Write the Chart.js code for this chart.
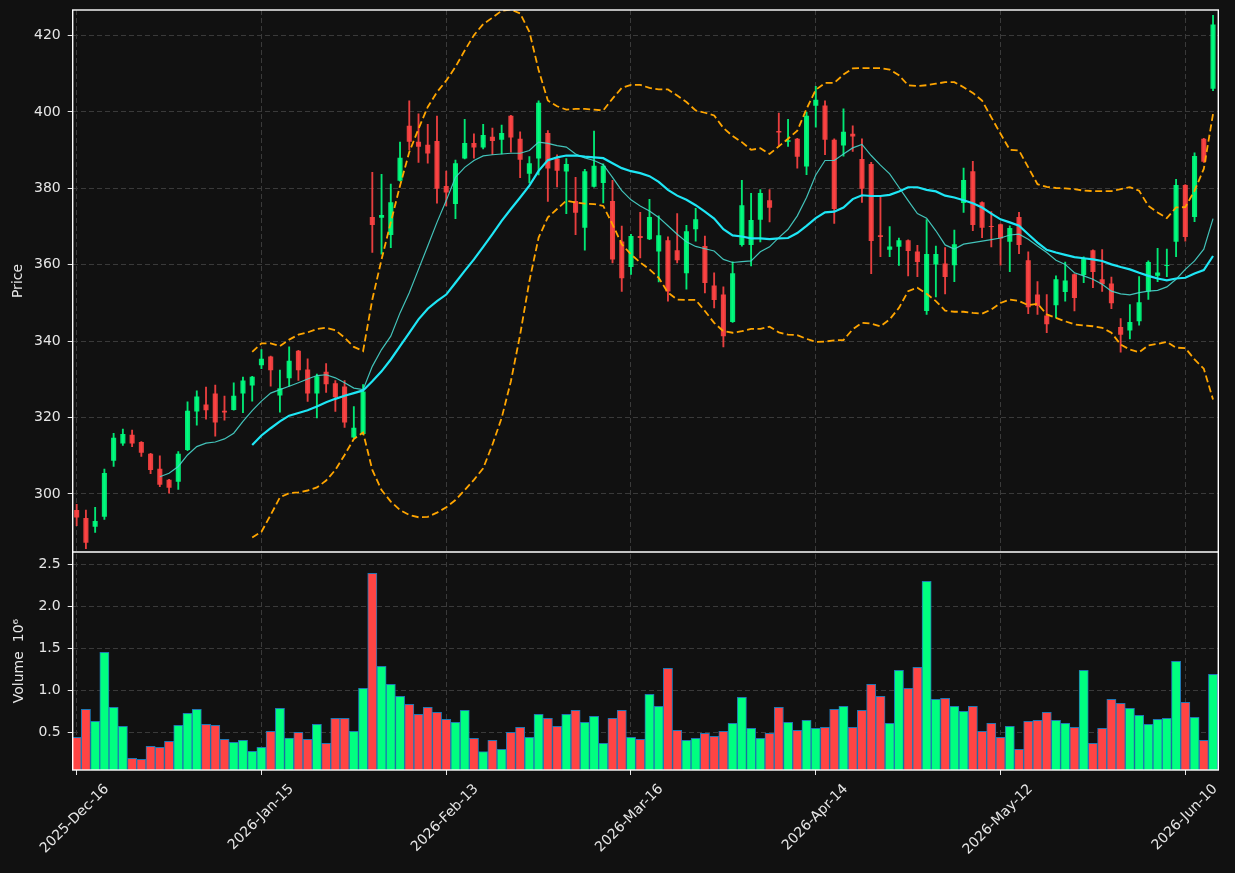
<!DOCTYPE html>
<html>
<head>
<meta charset="utf-8">
<script src="https://cdn.jsdelivr.net/npm/chart.js@4.4.1/dist/chart.umd.min.js"></script>
<style>
  html, body { margin: 0; padding: 0; background: #111111; }
  #wrap { position: relative; width: 1235px; height: 873px; }
</style>
</head>
<body>
<div id="wrap"><canvas id="chart" width="1235" height="873"></canvas></div>
<script>
// x axis: one bar per trading day, labelled every 20 bars
const tickIndex = [0, 20, 40, 60, 80, 100, 120];
const tickLabels = ['2025-Dec-16', '2026-Jan-15', '2026-Feb-13', '2026-Mar-16', '2026-Apr-14', '2026-May-12', '2026-Jun-10'];
const priceTicks = [300, 320, 340, 360, 380, 400, 420];
const volumeTicks = [0.5, 1.0, 1.5, 2.0, 2.5];

// OHLC, bars 0..123
const opens = [
  295.8, 293.7, 291.4, 294.0, 308.7, 313.2, 315.5, 313.6, 310.5, 306.6,
  303.7, 303.2, 311.5, 321.6, 323.4, 326.3, 321.8, 322.0, 326.3, 328.4,
  333.7, 336.0, 325.8, 330.3, 337.5, 332.6, 326.3, 332.0, 329.0, 328.1,
  314.8, 315.7, 372.5, 372.3, 367.8, 382.0, 396.4, 392.2, 391.4, 392.4,
  380.6, 375.9, 387.8, 391.9, 390.7, 393.5, 392.7, 399.0, 393.0, 383.8,
  387.8, 394.5, 387.8, 384.4, 376.7, 369.7, 380.4, 381.4, 376.7, 366.1,
  359.4, 367.5, 366.7, 363.5, 366.4, 363.8, 357.8, 369.3, 364.9, 354.6,
  352.2, 345.0, 365.2, 365.2, 371.8, 376.9, 395.0, 392.2, 393.0, 385.7,
  401.6, 401.7, 392.7, 391.2, 394.3, 387.7, 386.4, 367.7, 363.9, 364.7,
  366.4, 363.5, 347.9, 360.1, 360.3, 359.9, 376.2, 384.5, 376.4, 370.1,
  370.6, 366.0, 372.5, 361.2, 352.2, 346.7, 349.4, 352.9, 357.5, 357.3,
  363.8, 356.2, 355.1, 343.7, 342.8, 345.2, 353.0, 357.1, 359.7, 366.0,
  380.9, 372.5, 393.0, 406.1
];
const highs = [
  297.3, 295.8, 296.5, 306.5, 315.9, 317.0, 316.7, 313.7, 310.6, 310.0,
  303.8, 311.1, 324.1, 327.0, 328.0, 328.5, 325.6, 329.1, 330.6, 330.8,
  337.8, 336.1, 332.4, 338.5, 337.6, 335.4, 331.4, 334.1, 329.7, 329.7,
  322.9, 328.6, 384.2, 383.7, 381.1, 392.1, 402.9, 399.5, 396.8, 398.9,
  384.5, 387.4, 398.1, 394.3, 396.8, 395.8, 396.6, 399.1, 394.8, 388.3,
  402.9, 395.1, 388.8, 387.8, 382.9, 385.0, 395.0, 386.4, 382.1, 370.1,
  368.0, 373.7, 377.1, 372.8, 367.3, 373.4, 370.3, 374.8, 367.5, 357.9,
  354.2, 360.8, 382.1, 378.7, 379.7, 379.7, 399.7, 398.1, 393.1, 400.0,
  406.7, 402.9, 393.0, 400.8, 396.4, 393.0, 386.8, 377.8, 370.0, 367.0,
  366.5, 365.1, 371.8, 364.9, 364.5, 369.1, 385.3, 387.1, 376.5, 373.9,
  370.7, 370.2, 373.7, 363.4, 355.6, 352.2, 357.1, 360.7, 357.6, 362.1,
  363.9, 364.0, 356.8, 345.9, 349.6, 356.9, 361.0, 364.3, 364.1, 382.4,
  381.0, 389.3, 393.1, 425.3
];
const lows = [
  291.7, 285.7, 289.9, 293.3, 307.2, 312.7, 312.4, 309.8, 305.3, 301.9,
  300.2, 301.2, 311.3, 318.0, 319.6, 315.1, 319.3, 321.9, 321.3, 324.3,
  332.8, 328.2, 321.4, 328.2, 329.7, 324.2, 319.9, 326.6, 321.6, 317.4,
  314.7, 315.5, 363.2, 362.8, 364.5, 381.9, 390.1, 386.8, 386.6, 376.1,
  375.4, 372.1, 387.7, 387.9, 390.3, 388.8, 389.0, 389.5, 382.8, 381.4,
  383.5, 376.6, 380.4, 373.4, 367.9, 363.8, 380.3, 376.2, 360.5, 353.0,
  357.5, 361.8, 366.6, 355.5, 350.5, 360.5, 353.6, 366.2, 352.6, 348.7,
  338.5, 344.9, 364.9, 359.7, 366.0, 371.2, 391.0, 391.0, 385.3, 383.6,
  396.0, 388.8, 370.8, 388.4, 389.7, 376.3, 357.7, 362.1, 362.1, 359.8,
  357.1, 356.9, 347.0, 351.6, 352.4, 355.6, 373.7, 368.9, 367.1, 364.7,
  359.9, 358.2, 362.9, 347.2, 347.0, 342.2, 346.1, 350.5, 347.9, 355.3,
  354.0, 353.0, 348.5, 337.1, 340.6, 344.2, 350.9, 355.6, 356.9, 362.1,
  366.2, 371.3, 386.8, 405.6
];
const closes = [
  293.8, 287.2, 292.9, 305.5, 314.7, 315.7, 313.2, 310.8, 306.3, 302.4,
  301.6, 310.5, 321.8, 325.5, 321.9, 318.7, 321.3, 325.7, 329.7, 330.7,
  335.4, 332.4, 327.7, 334.9, 332.4, 326.3, 330.8, 328.7, 325.3, 318.7,
  317.3, 326.8, 370.4, 373.0, 376.4, 388.0, 392.2, 390.9, 389.1, 379.9,
  378.9, 386.6, 391.9, 390.7, 394.0, 392.4, 394.5, 393.3, 387.5, 386.6,
  402.4, 385.2, 384.6, 386.4, 373.6, 384.5, 385.9, 385.9, 361.4, 356.5,
  367.5, 367.0, 372.5, 367.7, 353.0, 361.2, 368.8, 371.9, 355.2, 350.8,
  341.3, 357.8, 375.6, 371.7, 378.8, 374.9, 394.6, 392.6, 388.3, 399.0,
  403.2, 392.7, 374.6, 394.8, 393.6, 379.9, 366.2, 367.3, 364.8, 366.4,
  363.6, 360.7, 362.8, 362.8, 356.8, 365.4, 382.2, 370.4, 369.7, 369.9,
  366.9, 369.6, 365.2, 348.9, 349.2, 344.4, 356.2, 355.9, 351.3, 361.7,
  358.1, 354.9, 349.9, 341.7, 345.0, 350.2, 360.7, 358.0, 359.9, 380.9,
  367.3, 388.5, 387.0, 422.9
];

// volume in millions
const volumes = [
  0.44, 0.774, 0.631, 1.452, 0.798, 0.571, 0.19, 0.178, 0.333, 0.321,
  0.393, 0.583, 0.726, 0.774, 0.595, 0.583, 0.417, 0.381, 0.405, 0.274,
  0.321, 0.512, 0.786, 0.432, 0.50, 0.417, 0.595, 0.369, 0.667, 0.667,
  0.512, 1.024, 2.393, 1.286, 1.071, 0.929, 0.833, 0.714, 0.798, 0.738,
  0.655, 0.619, 0.762, 0.429, 0.269, 0.405, 0.298, 0.50, 0.560, 0.44,
  0.714, 0.667, 0.571, 0.714, 0.762, 0.619, 0.690, 0.369, 0.667, 0.762,
  0.44, 0.417, 0.952, 0.810, 1.262, 0.524, 0.405, 0.429, 0.488, 0.452,
  0.512, 0.607, 0.917, 0.548, 0.429, 0.488, 0.798, 0.619, 0.524, 0.643,
  0.548, 0.560, 0.774, 0.810, 0.560, 0.762, 1.071, 0.929, 0.607, 1.238,
  1.024, 1.274, 2.298, 0.893, 0.905, 0.810, 0.750, 0.810, 0.512, 0.607,
  0.44, 0.571, 0.298, 0.631, 0.643, 0.738, 0.643, 0.607, 0.560, 1.238,
  0.369, 0.548, 0.893, 0.845, 0.786, 0.702, 0.595, 0.655, 0.667, 1.345,
  0.857, 0.679, 0.405, 1.190
];

// moving averages and bands; first bar index given separately
const ma10Start = 9;
const ma10 = [
  304.5, 305.4, 307.2, 310.2, 312.4, 313.3, 313.6, 314.4, 315.9, 319.0,
  321.8, 324.3, 326.4, 327.3, 328.2, 329.1, 330.1, 331.0, 331.2, 330.4,
  329.1, 327.7, 327.3, 333.4, 337.8, 341.3, 347.4, 352.7, 358.8, 364.9,
  371.1, 376.8, 382.9, 385.5, 387.3, 388.5, 388.8, 389.0, 389.2, 389.2,
  389.9, 392.1, 391.8, 391.2, 390.8, 389.0, 388.0, 387.3, 386.2, 382.9,
  379.4, 377.0, 375.4, 374.1, 372.4, 370.2, 368.0, 366.0, 364.8, 364.2,
  363.6, 361.4, 360.6, 360.8, 361.0, 363.4, 364.7, 367.1, 369.3, 372.8,
  377.6, 383.5, 387.3, 387.3, 389.0, 390.6, 391.5, 388.6, 386.1, 383.8,
  380.3, 376.8, 373.4, 372.2, 368.9, 365.2, 364.1, 365.4, 365.8, 366.2,
  366.6, 367.0, 367.8, 368.0, 366.7, 364.9, 363.2, 361.2, 360.1, 357.9,
  357.1, 356.2, 354.9, 353.1, 352.4, 352.1, 352.7, 353.1, 353.3, 354.2,
  356.2, 358.8, 361.0, 364.1, 372.1
];
const ma20Start = 19;
const ma20 = [
  312.8, 315.3, 317.2, 319.0, 320.5, 321.2, 321.9, 322.9, 324.0, 324.9,
  325.7, 326.4, 327.1, 329.5, 332.1, 335.2, 338.7, 342.2, 345.7, 348.5,
  350.5, 352.2, 355.3, 358.4, 361.4, 364.7, 368.0, 371.5, 374.6, 377.6,
  380.7, 384.6, 387.4, 388.1, 388.6, 388.6, 388.3, 388.1, 387.9, 386.6,
  385.3, 384.5, 384.0, 383.2, 381.7, 379.6, 378.1, 377.0, 375.6, 373.9,
  372.1, 369.3, 367.7, 367.4, 366.9, 366.9, 366.7, 366.9, 367.0, 368.3,
  370.2, 372.2, 373.7, 373.9, 375.0, 377.2, 378.2, 378.0, 378.0, 378.3,
  379.2, 380.3, 380.3, 379.6, 379.2, 378.1, 377.6, 376.9, 376.1, 375.0,
  373.4, 371.9, 371.1, 370.2, 368.0, 365.8, 363.9, 363.2, 362.6, 362.0,
  361.7, 361.4, 361.0, 360.1, 359.4, 358.8, 357.9, 357.1, 356.4, 355.9,
  356.4, 356.6, 357.7, 358.6, 362.3
];
const bbStart = 19;
const bbUpper = [
  337.2, 339.4, 339.4, 338.7, 340.4, 341.7, 342.3, 343.2, 343.5, 342.9,
  340.9, 338.5, 337.4, 350.9, 361.4, 371.1, 380.7, 389.5, 395.6, 401.3,
  405.2, 408.2, 411.8, 416.1, 420.1, 423.0, 424.7, 426.5, 426.8, 425.8,
  421.0, 411.0, 403.0, 401.5, 400.6, 400.8, 400.8, 400.6, 400.4, 403.5,
  406.3, 407.1, 407.1, 406.3, 405.9, 405.9, 404.3, 402.6, 400.4, 399.8,
  399.1, 395.8, 393.7, 392.1, 390.1, 390.5, 389.0, 391.0, 393.0, 395.1,
  400.8, 405.8, 407.6, 407.6, 409.8, 411.4, 411.5, 411.5, 411.5, 411.1,
  409.6, 407.0, 406.8, 407.0, 407.4, 407.8, 407.8, 406.5, 405.0, 403.0,
  398.6, 394.3, 390.1, 389.9, 385.5, 381.1, 380.4, 380.1, 380.0, 379.8,
  379.4, 379.3, 379.3, 379.3, 379.8, 380.3, 379.4, 375.4, 373.7, 372.2,
  375.0, 375.1, 379.4, 385.1, 399.5
];
const bbLower = [
  288.6, 290.1, 294.5, 299.1, 300.2, 300.4, 300.9, 301.7, 303.5, 306.3,
  310.2, 314.4, 316.1, 306.3, 301.0, 298.0, 295.8, 294.5, 293.9, 294.0,
  295.1, 296.5, 298.4, 301.0, 303.7, 306.7, 312.9, 319.9, 329.5, 341.7,
  355.7, 367.1, 372.4, 374.6, 376.8, 376.3, 376.0, 375.9, 375.4, 370.6,
  365.4, 362.7, 360.6, 358.8, 356.6, 352.7, 350.9, 350.8, 350.8, 347.9,
  344.8, 342.6, 342.2, 342.6, 343.2, 343.2, 343.8, 342.3, 341.7, 341.6,
  340.6, 339.8, 339.9, 340.2, 340.3, 343.1, 344.8, 344.6, 343.9, 345.7,
  348.7, 353.1, 354.0, 352.4, 350.5, 348.0, 347.7, 347.7, 347.4, 347.2,
  348.3, 350.0, 350.9, 350.5, 349.4, 349.8, 347.0, 346.1, 345.2, 344.4,
  344.1, 343.9, 343.5, 342.2, 339.1, 337.8, 337.1, 338.9, 339.3, 339.8,
  338.3, 338.2, 335.2, 332.8, 324.7
];

const TEXT = '#e6e6e6';
const GRID = '#3a3a3a';
const UP_CANDLE = 'rgba(0,255,128,0.9)';
const DOWN_CANDLE = 'rgba(255,68,68,0.9)';
const UP_VOL = '#00ff80';
const DOWN_VOL = '#ff4444';

const isUp = opens.map((o, i) => closes[i] >= o);
const candleColors = isUp.map(u => u ? UP_CANDLE : DOWN_CANDLE);
const volumeColors = isUp.map(u => u ? UP_VOL : DOWN_VOL);

const series = (values, start) => values.map((v, i) => ({ x: start + i, y: v }));
const ranges = (a, b) => a.map((v, i) => ({ x: i, y: [v, b[i]] }));

// white spines around both panels, like the axes frame
const framePlugin = {
    id: 'frame',
    afterDraw(chart) {
        const { ctx, chartArea: a, scales } = chart;
        ctx.save();
        ctx.strokeStyle = '#ffffff';
        ctx.lineWidth = 1.4;
        ctx.strokeRect(a.left, a.top, a.right - a.left, a.bottom - a.top);
        ctx.beginPath();
        ctx.moveTo(a.left, scales.y.bottom);
        ctx.lineTo(a.right, scales.y.bottom);
        ctx.stroke();
        ctx.restore();
    }
};

const font = { family: 'DejaVu Sans', size: 14 };

function yAxis(extra) {
    return Object.assign({
        type: 'linear',
        position: 'left',
        stack: 'panels',
        grid: { color: GRID, lineWidth: 1, drawTicks: true, tickLength: 5, tickColor: TEXT, tickWidth: 1, tickBorderDash: [] },
        border: { display: false, dash: [5, 3] },
        ticks: { color: TEXT, font: font, padding: 7 },
        afterFit: (s) => {
            s.width = 72.7;
            s.paddingTop = 0;
            s.paddingBottom = 0;
        }
    }, extra);
}

Chart.defaults.font.family = 'DejaVu Sans';

new Chart(document.getElementById('chart'), {
    type: 'bar',
    data: {
        datasets: [
            {
                type: 'line', label: 'MA10', data: series(ma10, ma10Start), yAxisID: 'y',
                borderColor: 'rgba(72,214,204,0.9)', borderWidth: 1.2, pointRadius: 0, tension: 0, order: 1
            },
            {
                type: 'line', label: 'MA20', data: series(ma20, ma20Start), yAxisID: 'y',
                borderColor: '#1ee6f5', borderWidth: 2.2, pointRadius: 0, tension: 0, order: 0
            },
            {
                type: 'line', label: 'BB upper', data: series(bbUpper, bbStart), yAxisID: 'y',
                borderColor: '#ffa500', borderWidth: 1.8, borderDash: [7, 3.5], pointRadius: 0, tension: 0, order: 2
            },
            {
                type: 'line', label: 'BB lower', data: series(bbLower, bbStart), yAxisID: 'y',
                borderColor: '#ffa500', borderWidth: 1.8, borderDash: [7, 3.5], pointRadius: 0, tension: 0, order: 3
            },
            {
                type: 'bar', label: 'body', data: ranges(opens, closes), yAxisID: 'y',
                backgroundColor: candleColors, grouped: false, barPercentage: 0.55, categoryPercentage: 1,
                minBarLength: 1, clip: 0, order: 10
            },
            {
                type: 'bar', label: 'wick', data: ranges(lows, highs), yAxisID: 'y',
                backgroundColor: candleColors, grouped: false, barThickness: 1.2,
                clip: 0, order: 11
            },
            {
                type: 'bar', label: 'volume', data: volumes.map((v, i) => ({ x: i, y: v })), yAxisID: 'yv',
                backgroundColor: volumeColors, borderColor: '#1f77b4', borderWidth: 1, borderSkipped: false,
                grouped: false, barPercentage: 1, categoryPercentage: 1, clip: 0, order: 12
            }
        ]
    },
    options: {
        responsive: false,
        devicePixelRatio: 1,
        animation: false,
        events: [],
        layout: { padding: { top: 10, right: 16.7, left: 0, bottom: 0 } },
        plugins: { legend: { display: false }, tooltip: { enabled: false } },
        scales: {
            x: {
                type: 'linear',
                min: -0.43,
                max: 123.57,
                offset: false,
                grid: { offset: false, color: GRID, lineWidth: 1, drawTicks: true, tickLength: 5, tickColor: TEXT, tickWidth: 1, tickBorderDash: [] },
                border: { display: false, dash: [5, 3] },
                afterBuildTicks: (s) => { s.ticks = tickIndex.map(v => ({ value: v })); },
                ticks: {
                    color: TEXT, font: font, autoSkip: false, minRotation: 45, maxRotation: 45,
                    labelOffset: 30, padding: 6,
                    callback: (v) => tickLabels[tickIndex.indexOf(v)]
                },
                afterFit: (s) => {
                    s.height = 103;
                    s.paddingLeft = 0;
                    s.paddingRight = 0;
                }
            },
            yv: yAxis({
                stackWeight: 218,
                min: 0.051,
                max: 2.646,
                afterBuildTicks: (s) => { s.ticks = volumeTicks.map(v => ({ value: v })); },
                ticks: { color: TEXT, font: font, padding: 7, callback: (v) => v.toFixed(1) },
                title: { display: true, text: 'Volume  10\u2076', color: TEXT, font: font, padding: { top: 11, bottom: 0 } }
            }),
            y: yAxis({
                stackWeight: 542,
                min: 284.8,
                max: 426.7,
                afterBuildTicks: (s) => { s.ticks = priceTicks.map(v => ({ value: v })); },
                ticks: { color: TEXT, font: font, padding: 7, callback: (v) => String(v) },
                title: { display: true, text: 'Price', color: TEXT, font: font, padding: { top: 10, bottom: 0 } }
            })
        }
    },
    plugins: [framePlugin]
});
</script>
</body>
</html>
